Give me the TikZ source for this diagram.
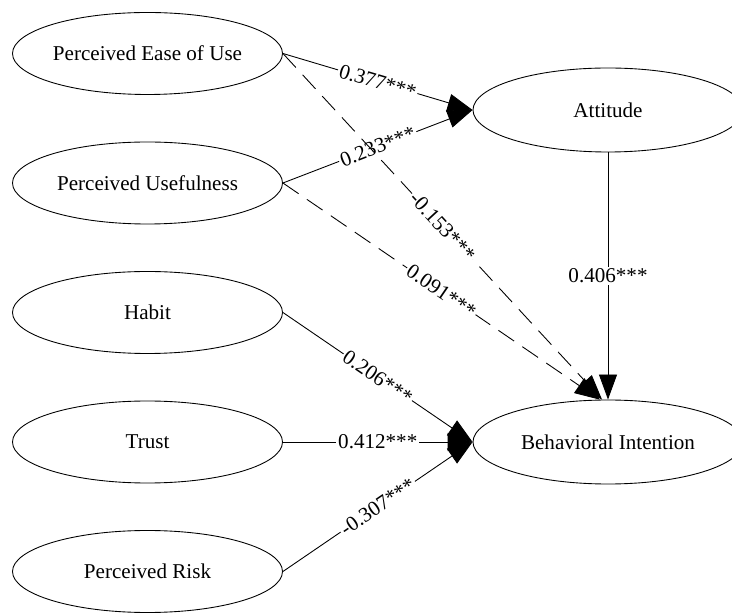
\documentclass[tikz,border=0pt]{standalone}
\usepackage{fontspec}
\setmainfont{Liberation Serif}
\usetikzlibrary{shapes.geometric,arrows.meta}

\begin{document}
\begin{tikzpicture}[
    font=\fontsize{12}{14}\selectfont,
    construct/.style={ellipse, draw, line width=0.5pt, inner sep=0pt, minimum width=5.4cm, minimum height=1.64cm},
    link/.style={line width=0.5pt, -{Triangle[length=0.5cm, width=0.36cm]}},
    dlink/.style={link, dash pattern=on 0.38cm off 0.2cm},
    coef/.style={midway, fill=white, inner sep=1pt}
]

\useasboundingbox (0,0) rectangle (14.64,12.24);

% Antecedents (left side)
\node[construct] (peou) at (2.95, 11.17) {Perceived Ease of Use};
\node[construct] (pu)   at (2.95, 8.58)  {Perceived Usefulness};
\node[construct] (hab)  at (2.95, 5.99)  {Habit};
\node[construct] (tru)  at (2.95, 3.40)  {Trust};
\node[construct] (risk) at (2.95, 0.81)  {Perceived Risk};

% Outcomes (right side)
\node[construct, minimum height=1.68cm] (att) at (12.16, 10.04) {Attitude};
\node[construct, minimum height=1.68cm] (bi)  at (12.16, 3.40)  {Behavioral Intention};

% Paths to attitude
\draw[link] (peou.east) -- node[coef, sloped] {0.377***} (att.west);
\draw[link] (pu.east) -- node[coef, sloped] {0.233***} (att.west);

% Direct paths to behavioral intention
\draw[dlink] (peou.east) -- node[coef, sloped] {-0.153***} (bi.98);
\draw[dlink] (pu.east) -- node[coef, sloped] {0.091***} (bi.101);
\draw[link] (att.south) -- node[coef] {0.406***} (bi.north);
\draw[link] (hab.east) -- node[coef, sloped] {0.206***} (bi.west);
\draw[link] (tru.east) -- node[coef] {0.412***} (bi.west);
\draw[link] (risk.east) -- node[coef, sloped] {-0.307***} (bi.west);

\end{tikzpicture}
\end{document}
